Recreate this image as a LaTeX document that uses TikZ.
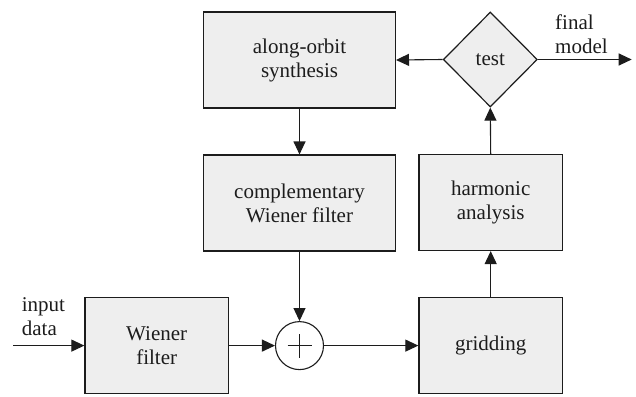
\documentclass[tikz,border=0pt]{standalone}
\usepackage{fontspec}
\setmainfont{Liberation Serif}
\usetikzlibrary{shapes.geometric,arrows.meta}
\definecolor{boxfill}{HTML}{EEEEEE}
\definecolor{ink}{HTML}{1C1C1C}
\tikzset{
  block/.style={draw=ink, line width=1.4pt, fill=boxfill, rectangle, inner sep=0pt,
    align=center, text=ink},
  wide/.style={block, minimum width=191.6pt, minimum height=95.7pt},
  narrow/.style={block, minimum width=143.3pt, minimum height=95.7pt},
  decision/.style={draw=ink, line width=1.2pt, fill=boxfill, diamond, aspect=1, inner sep=0pt,
    minimum width=94pt, minimum height=95pt, text=ink},
  summer/.style={draw=ink, line width=1.1pt, fill=white, circle, minimum size=48pt, inner sep=0pt},
  flow/.style={draw=ink, line width=1.1pt, -{Triangle[length=13pt,width=12pt]}},
  label/.style={align=left, inner sep=0pt, text=ink}
}
\begin{document}
\begin{tikzpicture}[x=1pt, y=-1pt, font=\fontsize{21}{24}\selectfont]
\useasboundingbox (0,0) rectangle (636,396);

% processing blocks
\node[wide] (synth) at (299.5,60) {along-orbit\\synthesis};
\node[wide] (comp) at (299.5,203) {complementary\\Wiener filter};
\node[narrow] (wiener) at (156.7,345.6) {Wiener\\filter};
\node[narrow] (grid) at (490.7,345.6) {gridding};
\node[narrow] (harm) at (490.7,202.5) {harmonic\\analysis};
\node[decision] (test) at (490.3,59.5) {test};

% summing junction
\node[summer] (sum) at (299.5,345.6) {};
\draw[ink, line width=1.1pt] ([xshift=-12pt]sum.center) -- ([xshift=12pt]sum.center)
  ([yshift=-12pt]sum.center) -- ([yshift=12pt]sum.center);

% free ends and labels
\coordinate (in) at (13.3,345.6);
\coordinate (out) at (631.7,59.5);
\node[label, anchor=north west] (inlbl) at (21.7,297.8) {input\\data};
\node[label, anchor=north west] (outlbl) at (555,14.5) {final\\model};

% connectors
\draw[flow] (in) -- (wiener.west);
\draw[flow] (wiener.east) -- (sum.west);
\draw[flow] (sum.east) -- (grid.west);
\draw[flow] (grid.north) -- (harm.south);
\draw[flow] (harm.north) -- (test.south);
\draw[flow] (test.west) -- (synth.east);
\draw[flow] (test.east) -- (out);
\draw[flow] (synth.south) -- (comp.north);
\draw[flow] (comp.south) -- (sum.north);
\end{tikzpicture}
\end{document}
